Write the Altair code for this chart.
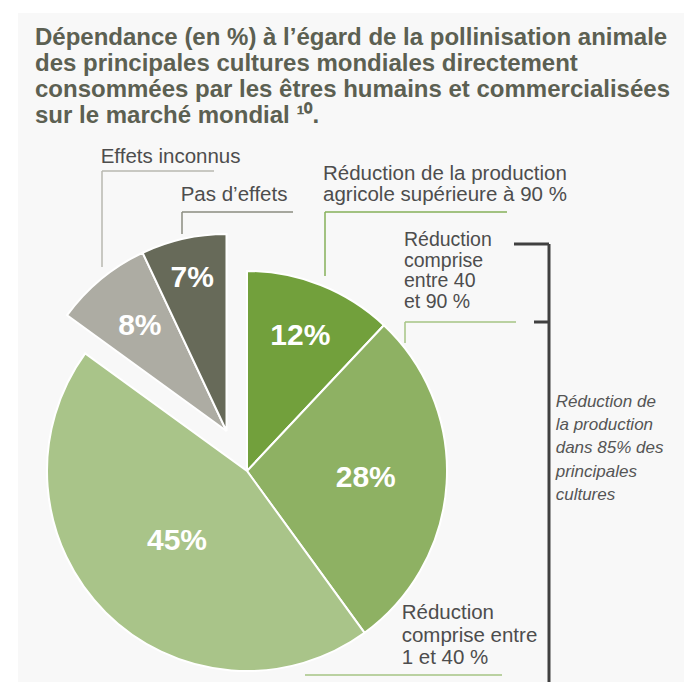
import math
import altair as alt
import pandas as pd

# ---------------- data ----------------
categories = [
    "Réduction de la production agricole supérieure à 90 %",
    "Réduction comprise entre 40 et 90 %",
    "Réduction comprise entre 1 et 40 %",
    "Effets inconnus",
    "Pas d’effets",
]
shares = [12, 28, 45, 8, 7]
share_labels = ["12%", "28%", "45%", "8%", "7%"]

title_lines = [
    "Dépendance (en %) à l’égard de la pollinisation animale",
    "des principales cultures mondiales directement",
    "consommées par les êtres humains et commercialisées",
    "sur le marché mondial ¹⁰.",
]
label_inconnus = ["Effets inconnus"]
label_pas = ["Pas d’effets"]
label_90 = ["Réduction de la production", "agricole supérieure à 90 %"]
label_40_90 = ["Réduction", "comprise", "entre 40", "et 90 %"]
label_1_40 = ["Réduction", "comprise entre", "1 et 40 %"]
label_bracket = ["Réduction de", "la production", "dans 85% des", "principales", "cultures"]

# ---------------- styles / layout ----------------
FONT = "Liberation Sans"
slice_colors = ["#72a03c", "#8eb163", "#a9c489", "#adaca3", "#676a59"]
exploded = [False, False, False, True, True]
label_radius = [145, 119, 99, 136, 157]
CX, CY, R = 229, 458, 200
EX, EY, ER = 208.5, 418, 197

df = pd.DataFrame({
    "cat": categories,
    "share": shares,
    "label": share_labels,
    "idx": list(range(len(categories))),
    "exploded": exploded,
})

theta_scale = alt.Scale(domain=[0, 100], range=[0, 2 * math.pi])
color_scale = alt.Scale(domain=categories, range=slice_colors)

base = alt.Chart(df).transform_window(
    cum="sum(share)", sort=[alt.SortField("idx")], frame=[None, 0]
).transform_calculate(
    start="datum.cum - datum.share",
    mid="datum.cum - datum.share / 2",
    lr=f"{label_radius}[datum.idx]",
)


def arc_layer(filt, cx, cy, r):
    return base.transform_filter(filt).mark_arc(
        outerRadius=r, stroke="white", strokeWidth=2
    ).encode(
        theta=alt.Theta("start:Q", scale=theta_scale, stack=None),
        theta2="cum:Q",
        color=alt.Color("cat:N", scale=color_scale, legend=None),
        x=alt.value(cx),
        y=alt.value(cy),
    )


def pct_layer(filt, cx, cy):
    return base.transform_filter(filt).mark_text(
        font=FONT, fontSize=30, fontWeight="bold", color="white",
        align="center", baseline="middle",
    ).encode(
        theta=alt.Theta("mid:Q", scale=theta_scale, stack=None),
        radius=alt.Radius("lr:Q", scale=None),
        text="label:N",
        x=alt.value(cx),
        y=alt.value(cy),
    )


# leader lines (annotation geometry, pixel space)
segments = pd.DataFrame([
    # Effets inconnus
    dict(x=84, x2=196, y=158, y2=158, c="#b8b8b1", w=1.5),
    dict(x=84, x2=84, y=158, y2=254, c="#b8b8b1", w=1.5),
    # Pas d'effets
    dict(x=164, x2=275, y=199, y2=199, c="#8b8d81", w=1.5),
    dict(x=164, x2=164, y=199, y2=221, c="#8b8d81", w=1.5),
    # > 90 %
    dict(x=307, x2=489, y=199, y2=199, c="#86b05a", w=1.5),
    dict(x=307, x2=307, y=199, y2=263, c="#86b05a", w=1.5),
    # 40 - 90 %
    dict(x=387, x2=498, y=309, y2=309, c="#a6c585", w=1.5),
    dict(x=387, x2=387, y=309, y2=330, c="#a6c585", w=1.5),
    # 1 - 40 %
    dict(x=287, x2=484, y=662, y2=662, c="#a6c585", w=1.5),
    # bracket
    dict(x=496, x2=531, y=231, y2=231, c="#404040", w=3),
    dict(x=531, x2=531, y=231, y2=669, c="#404040", w=3),
    dict(x=516, x2=531, y=309, y2=309, c="#404040", w=3),
])

rules = alt.Chart(segments).mark_rule(strokeCap="butt").encode(
    x=alt.X("x:Q", scale=None, axis=None),
    x2="x2:Q",
    y=alt.Y("y:Q", scale=None, axis=None),
    y2="y2:Q",
    color=alt.Color("c:N", scale=None),
    strokeWidth=alt.StrokeWidth("w:Q", scale=None),
)


def lines_df(lines, x, y0, dy):
    return pd.DataFrame({"t": lines, "x": [x] * len(lines),
                         "y": [y0 + i * dy for i in range(len(lines))]})


def text_layer(d, size, color, weight="normal", style="normal"):
    return alt.Chart(d).mark_text(
        font=FONT, fontSize=size, fontWeight=weight, fontStyle=style,
        color=color, align="left", baseline="alphabetic",
    ).encode(
        x=alt.X("x:Q", scale=None, axis=None),
        y=alt.Y("y:Q", scale=None, axis=None),
        text="t:N",
    )


title_layer = text_layer(lines_df(title_lines, 17, 31.5, 26.3), 24, "#5c6052", weight="bold")
lab_df = pd.concat([
    lines_df(label_inconnus, 82.7, 149.7, 21),
    lines_df(label_pas, 162.7, 187.7, 21),
    lines_df(label_90, 305, 166.5, 21),
    lines_df(label_1_40, 383.7, 606.3, 22.5),
])
labels_layer = text_layer(lab_df, 20.5, "#4d4d4d")
labels_tight = text_layer(lines_df(label_40_90, 386, 233, 20.6), 19.5, "#4d4d4d")
italic_layer = text_layer(lines_df(label_bracket, 537.7, 393.7, 23.3), 17, "#555555", style="italic")

chart = alt.layer(
    arc_layer("!datum.exploded", CX, CY, R),
    arc_layer("datum.exploded", EX, EY, ER),
    pct_layer("!datum.exploded", CX, CY),
    pct_layer("datum.exploded", EX, EY),
    rules,
    title_layer,
    labels_layer,
    labels_tight,
    italic_layer,
).properties(
    width=666,
    height=669,
    autosize="none",
    padding={"left": 10, "top": 5, "right": 0, "bottom": 0},
    background="white",
).configure_view(fill="#f8f8f8", strokeWidth=0)

chart.save("out.html", embed_options={"renderer": "svg", "actions": False})
